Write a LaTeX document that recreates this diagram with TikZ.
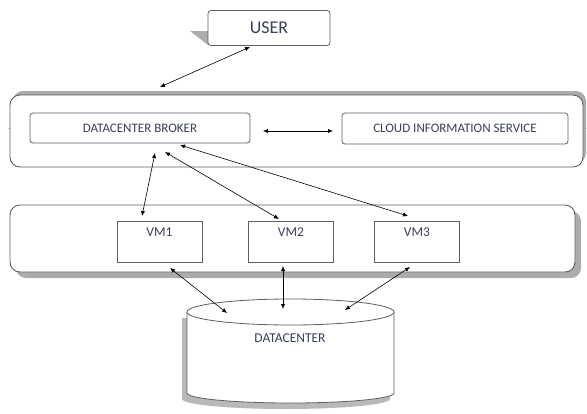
\documentclass[tikz,border=0pt]{standalone}
\usepackage{fontspec}
\setmainfont{Carlito}
\usetikzlibrary{arrows.meta}
\definecolor{txt}{RGB}{58,64,88}
\definecolor{shd}{RGB}{172,172,172}
\definecolor{shdc}{RGB}{185,185,185}
\definecolor{shdl}{RGB}{195,195,195}
\definecolor{edge}{RGB}{95,95,95}
\begin{document}
\begin{tikzpicture}[x=1pt,y=-1pt,
  panel/.style={draw=edge,line width=0.9pt,rounded corners=10pt,fill=white,inner sep=0pt},
  rbox/.style={draw=edge,line width=0.8pt,rounded corners=3pt,fill=white,inner sep=0pt,text=txt,font=\fontsize{13}{15}\selectfont},
  vmbox/.style={draw=edge,line width=0.8pt,fill=white,inner sep=0pt,minimum width=85pt,minimum height=41pt},
  lbl/.style={text=txt,font=\fontsize{13.5}{15}\selectfont},
  link/.style={line width=0.6pt,{Latex[length=5pt,width=4.2pt]}-{Latex[length=5pt,width=4.2pt]}}]
\useasboundingbox (0,0) rectangle (587,413);
% shadows
\fill[shd,rounded corners=10pt] (13,91) rectangle (586,163);
\fill[shd,rounded corners=10pt] (16,211) rectangle (581,278);
\fill[shd] (190,31) -- (208,31) -- (208,45) -- cycle;
\fill[shd] (8,128) -- (30,128) -- (30,143) -- cycle;
\fill[shd] (568,128) -- (587,128) -- (568,143) -- cycle;
\fill[shdl] (115,224) rectangle (200,265);
\fill[shdl] (247,224) rectangle (332,265);
\fill[shdl] (373,224) rectangle (458,265);
\fill[shdc] (182,318) -- (182,399) arc[start angle=180,end angle=0,x radius=104,y radius=10] -- (390,318) -- cycle;
% panels
\node[panel,minimum width=573pt,minimum height=72pt] (layer1) at (296.5,131) {};
\node[panel,minimum width=565pt,minimum height=67pt] (layer2) at (292.5,238.5) {};
% boxes
\node[rbox,minimum width=122pt,minimum height=35pt,font=\fontsize{18}{20}\selectfont] (user) at (269,28) {USER};
\node[rbox,minimum width=220pt,minimum height=30pt] (broker) at (140,128) {DATACENTER BROKER};
\node[rbox,minimum width=226pt,minimum height=31pt] (cis) at (455,128.5) {CLOUD INFORMATION SERVICE};
\node[vmbox,label={[lbl,anchor=north,yshift=-4pt]north:VM1}] (vm1) at (159.5,241.5) {};
\node[vmbox,label={[lbl,anchor=north,yshift=-4pt]north:VM2}] (vm2) at (291,241.5) {};
\node[vmbox,label={[lbl,anchor=north,yshift=-4pt]north:VM3}] (vm3) at (417,241.5) {};
% datacenter cylinder
\draw[edge,line width=0.8pt,fill=white] (187,312) -- (187,393) arc[start angle=180,end angle=0,x radius=103.5,y radius=10] -- (394,312);
\draw[edge,line width=0.8pt,fill=white] (290.5,312) ellipse[x radius=103.5,y radius=13];
\node[lbl] (dc) at (290,338) {DATACENTER};
% connector end points
\coordinate (uT) at (250,47);
\coordinate (uB) at (160,87);
\coordinate (bR) at (263,131);
\coordinate (cL) at (333,131);
\coordinate (b1) at (155,153);
\coordinate (b2) at (165,152);
\coordinate (b3) at (180,145);
\coordinate (v1t) at (142,216);
\coordinate (v2t) at (279,219);
\coordinate (v3t) at (408,216);
\coordinate (v1b) at (170,268);
\coordinate (v2b) at (283,266);
\coordinate (v3b) at (410,267);
\coordinate (d1) at (227,313);
\coordinate (d2) at (283,309);
\coordinate (d3) at (345,310);
% connectors
\draw[link] (uB) -- (uT);
\draw[link] (bR) -- (cL);
\draw[link] (b1) -- (v1t);
\draw[link] (b2) -- (v2t);
\draw[link] (b3) -- (v3t);
\draw[link] (v1b) -- (d1);
\draw[link] (v2b) -- (d2);
\draw[link] (v3b) -- (d3);
\end{tikzpicture}
\end{document}
